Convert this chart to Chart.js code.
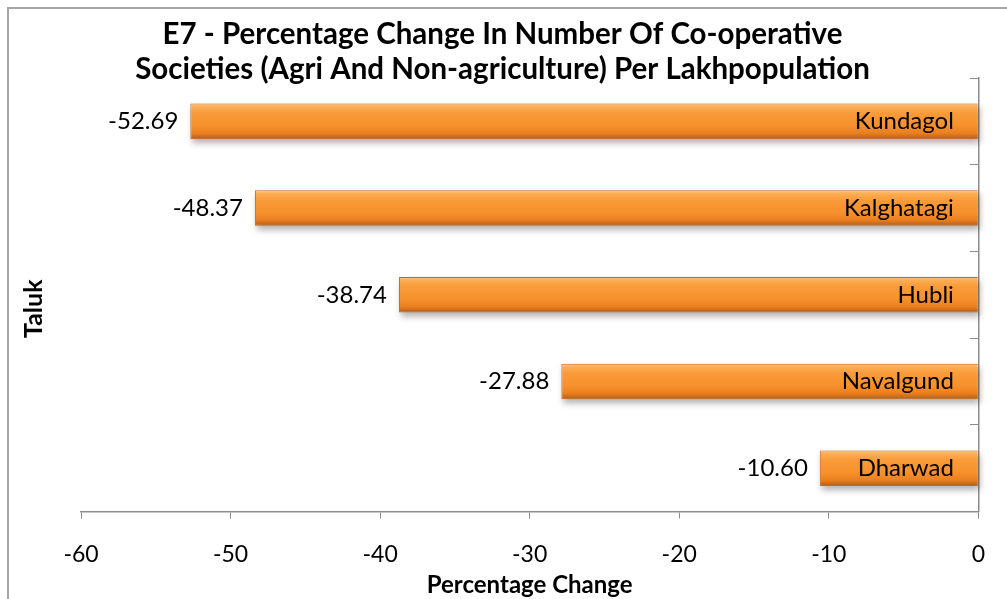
<!DOCTYPE html>
<html>
<head>
<meta charset="utf-8">
<script src="https://cdn.jsdelivr.net/npm/chart.js@4/dist/chart.umd.min.js"></script>
<style>
  html, body { margin: 0; padding: 0; background: #fff; overflow: hidden; }
  #wrap { position: relative; width: 1007px; height: 599px; }
  #frame { position: absolute; left: 7px; top: 7px; width: 1040px; height: 640px; border: 2px solid #a6a6a6; box-sizing: border-box; }
  canvas { position: absolute; left: 0; top: 0; }
</style>
</head>
<body>
<div id="wrap">
  <div id="frame"></div>
  <canvas id="grafico" width="1007" height="599"></canvas>
</div>
<script>
const titleLines = [
  'E7 - Percentage Change In Number Of Co-operative',
  'Societies (Agri And Non-agriculture) Per Lakhpopulation'
];
const talukLabels = ['Kundagol', 'Kalghatagi', 'Hubli', 'Navalgund', 'Dharwad'];
const changeValues = [-52.69, -48.37, -38.74, -27.88, -10.60];
const xMin = -60;
const xMax = 0;
const xStep = 10;
const xAxisTitle = 'Percentage Change';
const yAxisTitle = 'Taluk';

const FONT = 'Lato, "Open Sans", sans-serif';
const axisGray = '#8c8c8c';
const barFrac = 0.41;

function alturaBarra(ys) {
  return Math.abs(ys.getPixelForValue(1) - ys.getPixelForValue(0)) * barFrac;
}

function gradienteBarra(c) {
  const chart = c.chart;
  const ys = chart.scales.y;
  if (!ys || !chart.chartArea) return '#f7922e';
  const cy = ys.getPixelForValue(c.dataIndex);
  const h = alturaBarra(ys);
  const g = chart.ctx.createLinearGradient(0, cy - h / 2, 0, cy + h / 2);
  g.addColorStop(0, '#fdc57c');
  g.addColorStop(0.1, '#fbad52');
  g.addColorStop(0.28, '#f99a38');
  g.addColorStop(0.62, '#f7912c');
  g.addColorStop(0.84, '#e97f1f');
  g.addColorStop(0.93, '#c96c1c');
  g.addColorStop(1, '#a95915');
  return g;
}

// sombra suave atras das barras
const pluginSombra = {
  id: 'sombra',
  beforeDatasetsDraw(chart) {
    const { ctx } = chart;
    const meta = chart.getDatasetMeta(0);
    ctx.save();
    ctx.filter = 'blur(3px)';
    ctx.fillStyle = 'rgba(0,0,0,0.3)';
    meta.data.forEach(bar => {
      const left = Math.min(bar.x, bar.base);
      const w = Math.abs(bar.base - bar.x);
      ctx.fillRect(left + 2, bar.y - bar.height / 2 + 4, w, bar.height);
    });
    ctx.restore();
  }
};

const pluginRotulos = {
  id: 'rotulos',
  afterDatasetsDraw(chart) {
    const { ctx } = chart;
    const meta = chart.getDatasetMeta(0);
    ctx.save();
    ctx.fillStyle = '#000';
    ctx.textBaseline = 'middle';
    ctx.textAlign = 'right';
    ctx.font = '24px ' + FONT;
    meta.data.forEach((bar, i) => {
      ctx.fillText(changeValues[i].toFixed(2), bar.x - 12, bar.y);
      ctx.fillText(talukLabels[i], bar.base - 24, bar.y);
    });
    ctx.restore();
  },
  afterDraw(chart) {
    const { ctx, chartArea } = chart;
    ctx.save();
    ctx.fillStyle = '#000';
    ctx.textAlign = 'center';
    ctx.textBaseline = 'alphabetic';
    ctx.font = 'bold 29.5px ' + FONT;
    titleLines.forEach((t, i) => ctx.fillText(t, chart.width / 2 - 1, 44 + i * 35));

    ctx.font = 'bold 25px ' + FONT;
    ctx.translate(42, (chartArea.top + chartArea.bottom) / 2 + 14);
    ctx.rotate(-Math.PI / 2);
    ctx.fillText(yAxisTitle, 0, 0);
    ctx.restore();
  }
};

new Chart(document.getElementById('grafico').getContext('2d'), {
  type: 'bar',
  data: {
    labels: talukLabels,
    datasets: [{
      data: changeValues,
      backgroundColor: gradienteBarra,
      borderColor: '#c46a1c',
      borderWidth: 1,
      barPercentage: barFrac,
      categoryPercentage: 1,
    }]
  },
  plugins: [pluginSombra, pluginRotulos],
  options: {
    indexAxis: 'y',
    responsive: false,
    animation: false,
    events: [],
    layout: { padding: { left: 81, right: 22, top: 78, bottom: 0 } },
    plugins: {
      legend: { display: false },
      title: { display: false },
      tooltip: { enabled: false }
    },
    scales: {
      x: {
        position: 'bottom',
        min: xMin,
        max: xMax,
        grid: { drawOnChartArea: false, color: axisGray, tickLength: 7 },
        border: { color: axisGray, width: 1.5 },
        ticks: {
          stepSize: xStep,
          color: '#000',
          padding: 22,
          font: { family: FONT, size: 23 }
        },
        title: {
          display: true,
          text: xAxisTitle,
          color: '#000',
          font: { family: FONT, size: 24, weight: 'bold' },
          padding: { top: -19, bottom: -1 }
        }
      },
      y: {
        position: { x: 0 },
        grid: { offset: true, drawOnChartArea: false, color: axisGray, tickLength: 8 },
        border: { color: axisGray, width: 1.5 },
        ticks: { display: false }
      }
    }
  }
});
</script>
</body>
</html>
